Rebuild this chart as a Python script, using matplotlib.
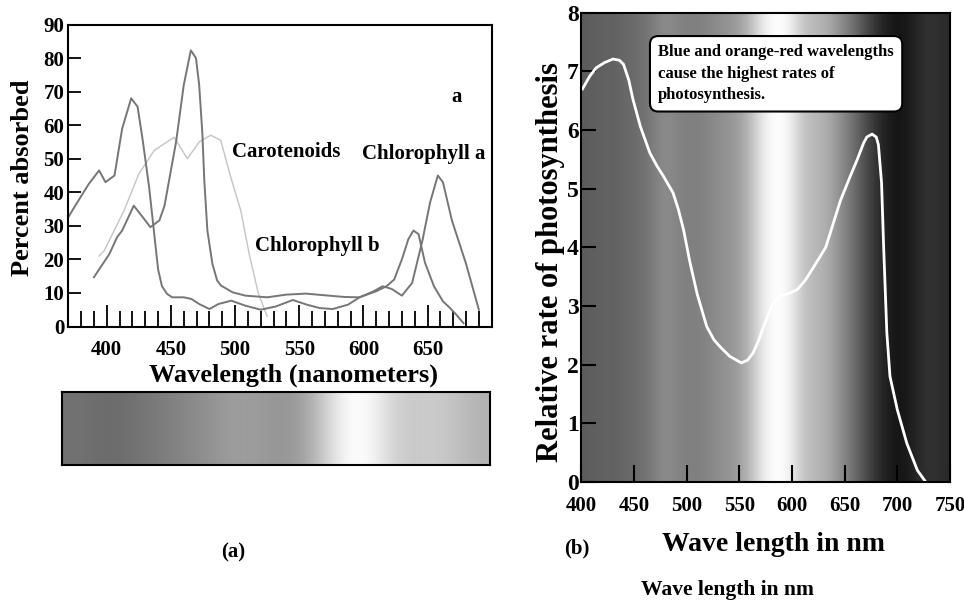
import matplotlib
matplotlib.use("Agg")
import matplotlib.pyplot as plt
from matplotlib.ticker import MultipleLocator
import numpy as np

plt.rcParams['font.family'] = ['Liberation Serif', 'DejaVu Serif']
plt.rcParams['font.weight'] = 'bold'

# panel (a): absorption spectra, percent absorbed vs wavelength (nm)
chl_a_wl = [369, 378, 386, 394, 399, 406, 412, 419, 424, 428, 433, 436, 440, 443, 447, 451,
            460, 466, 472, 480, 487, 497, 508, 520, 532, 545, 556, 566, 576, 588, 597, 608,
            615, 622, 630, 638, 646, 652, 658, 662, 669, 680, 690]
chl_a_val = [32, 37.6, 42.5, 46.5, 43, 45, 59, 68, 65.5, 55.5, 41.5, 31, 17, 12, 9.7, 8.7,
             8.7, 8.2, 6.7, 5.2, 6.7, 7.7, 6.2, 5.0, 6.0, 7.9, 6.5, 5.5, 5.2, 6.5, 8.7, 10.5,
             12.0, 11.2, 9.2, 13, 25.6, 37, 45, 43, 31.6, 18.7, 5]

chl_b_wl = [390, 402, 408, 412, 421, 428, 434, 441, 445, 449, 454, 460, 465.5, 469.5, 472,
            474.5, 476, 478.4, 482.3, 486, 489, 498, 508, 525, 540, 555, 570, 585, 597, 610,
            618, 624, 630, 635, 639, 643, 648, 655, 662, 667, 672, 678]
chl_b_val = [14.7, 21.6, 26.6, 28.6, 36, 32.6, 29.6, 31.6, 36, 44.5, 55, 72, 82.3, 80, 72,
             57.5, 43.5, 28.6, 18.7, 13.7, 12.2, 10.2, 9.2, 8.7, 9.5, 9.8, 9.3, 8.8, 8.7, 10.5,
             12, 14, 20, 26, 28.6, 27.5, 19, 12, 7.5, 5.7, 3.7, 1]

carot_wl = [394, 398, 413.5, 425, 437, 452.5, 462.8, 472, 481, 488.8, 496.6, 504.4, 511, 518, 525]
carot_val = [21, 22.6, 34.6, 45.5, 52.5, 56.4, 50, 55, 57, 55.5, 44.5, 34.6, 21.6, 10, 3]

# grey strip under panel (a), evenly spaced brightness stops, left to right
bar_shade = [0.45, 0.43, 0.42, 0.45, 0.48, 0.52, 0.55, 0.6, 0.62, 0.6,
             0.58, 0.65, 0.85, 1.0, 0.97, 0.82, 0.78, 0.8, 0.75, 0.7]

# panel (b): action spectrum
rate_wl = [401, 408, 414, 422, 430, 436, 440, 445, 449, 456, 465, 472, 478, 487, 492, 497,
           503, 510, 519, 526, 532, 541, 552, 558, 563, 568, 573, 582, 590, 598, 605, 613,
           620, 632, 646, 655, 662, 668, 671, 676, 680, 682, 685, 687, 690, 693, 700, 709,
           719, 727]
rate_val = [6.7, 6.92, 7.06, 7.15, 7.21, 7.19, 7.12, 6.85, 6.52, 6.06, 5.61, 5.38, 5.21,
            4.93, 4.65, 4.3, 3.75, 3.2, 2.65, 2.42, 2.3, 2.14, 2.03, 2.08, 2.2, 2.4, 2.65,
            3.05, 3.18, 3.22, 3.28, 3.45, 3.65, 4.0, 4.8, 5.2, 5.5, 5.78, 5.88, 5.93, 5.88,
            5.75, 5.1, 4.0, 2.55, 1.8, 1.23, 0.66, 0.2, 0.0]

# background spectrum brightness every 10 nm from 400 to 750
spec_shade = [0.36, 0.37, 0.38, 0.38, 0.4, 0.42, 0.44, 0.5, 0.55, 0.52, 0.5, 0.5,
              0.52, 0.55, 0.58, 0.62, 0.72, 0.88, 0.98, 1.0, 0.92, 0.78, 0.72, 0.7,
              0.62, 0.52, 0.42, 0.3, 0.2, 0.12, 0.08, 0.1, 0.16, 0.2, 0.18, 0.16]

W, H = 964, 604
fig = plt.figure(figsize=(W / 100, H / 100), dpi=100)


def box(l, t, r, b):
    return [l / W, 1 - b / H, (r - l) / W, (b - t) / H]


# ---- panel (a)
ax = fig.add_axes(box(68.3, 24.5, 491.7, 326.5))
ax.plot(carot_wl, carot_val, color='#c4c4c4', lw=1.0)
ax.plot(chl_a_wl, chl_a_val, color='#767676', lw=1.4)
ax.plot(chl_b_wl, chl_b_val, color='#767676', lw=1.4)
ax.set_xlim(370, 700)
ax.set_ylim(0, 90)
ax.xaxis.set_minor_locator(MultipleLocator(10))
ax.yaxis.set_major_locator(MultipleLocator(10))
ax.set_xticks(range(400, 651, 50))
ax.tick_params(axis='x', which='major', direction='in', length=16, width=1.3, pad=10, labelsize=15)
ax.tick_params(axis='x', which='minor', direction='in', length=11.5, width=1.3)
ax.tick_params(axis='y', direction='in', length=9.5, width=1.3, pad=3, labelsize=15)
for s in ax.spines.values():
    s.set_linewidth(1.5)
ax.set_xlabel('Wavelength (nanometers)', fontsize=19, fontweight='bold')
ax.xaxis.set_label_coords(0.533, -0.16)
ax.xaxis.label.set_va('center')
ax.set_ylabel('Percent absorbed', fontsize=19, fontweight='bold')
ax.yaxis.set_label_coords(-0.109, 0.492)
ax.yaxis.label.set_va('center')
ax.text(673, 68.4, 'a', fontsize=15, ha='center', va='center')
ax.text(539.5, 52, 'Carotenoids', fontsize=15, ha='center', va='center')
ax.text(647, 51.5, 'Chlorophyll a', fontsize=15, ha='center', va='center')
ax.text(564, 24.1, 'Chlorophyll b', fontsize=15, ha='center', va='center')

bar = fig.add_axes(box(62, 392, 490, 465))
bar.imshow(np.array([bar_shade]), cmap='gray', vmin=0, vmax=1, aspect='auto',
           interpolation='bicubic', extent=[0, 1, 0, 1])
bar.set_xticks([])
bar.set_yticks([])
for s in bar.spines.values():
    s.set_linewidth(1.5)

fig.text(233 / W, 1 - 552 / H, '(a)', fontsize=15, ha='center', va='center')

# ---- panel (b)
bx = fig.add_axes(box(581.4, 12.7, 950, 482))
bx.imshow(np.array([spec_shade]), cmap='gray', vmin=0, vmax=1, aspect='auto',
          interpolation='bicubic', extent=[395, 755, 0, 8])
bx.plot(rate_wl, rate_val, color='white', lw=2, solid_joinstyle='round')
bx.set_xlim(400, 750)
bx.set_ylim(0, 8)
bx.set_xticks(range(400, 751, 50))
bx.set_yticks(range(0, 9))
bx.tick_params(axis='x', direction='in', length=12, width=1.5, pad=10, labelsize=15)
bx.tick_params(axis='y', direction='in', length=10.5, width=1.5, pad=2, labelsize=17)
for s in bx.spines.values():
    s.set_linewidth(1.5)
bx.set_xlabel('Wave length in nm', fontsize=20, fontweight='bold')
bx.xaxis.set_label_coords(0.5225, -0.134)
bx.xaxis.label.set_va('center')
bx.set_ylabel('Relative rate of photosynthesis', fontsize=22, fontweight='bold')
bx.yaxis.set_label_coords(-0.085, 0.469)
bx.yaxis.label.set_va('center')
bx.text(473, 7.46, 'Blue and orange-red wavelengths\ncause the highest rates of\nphotosynthesis.',
        fontsize=12, ha='left', va='top', linespacing=1.45,
        bbox=dict(boxstyle='round,pad=0.5,rounding_size=0.5', fc='white', ec='black', lw=1.5))

fig.text(577 / W, 1 - 548 / H, '(b)', fontsize=15, ha='center', va='center')
fig.text(727 / W, 1 - 590 / H, 'Wave length in nm', fontsize=15.5, ha='center', va='center')

fig.savefig('out.png', dpi=100)
